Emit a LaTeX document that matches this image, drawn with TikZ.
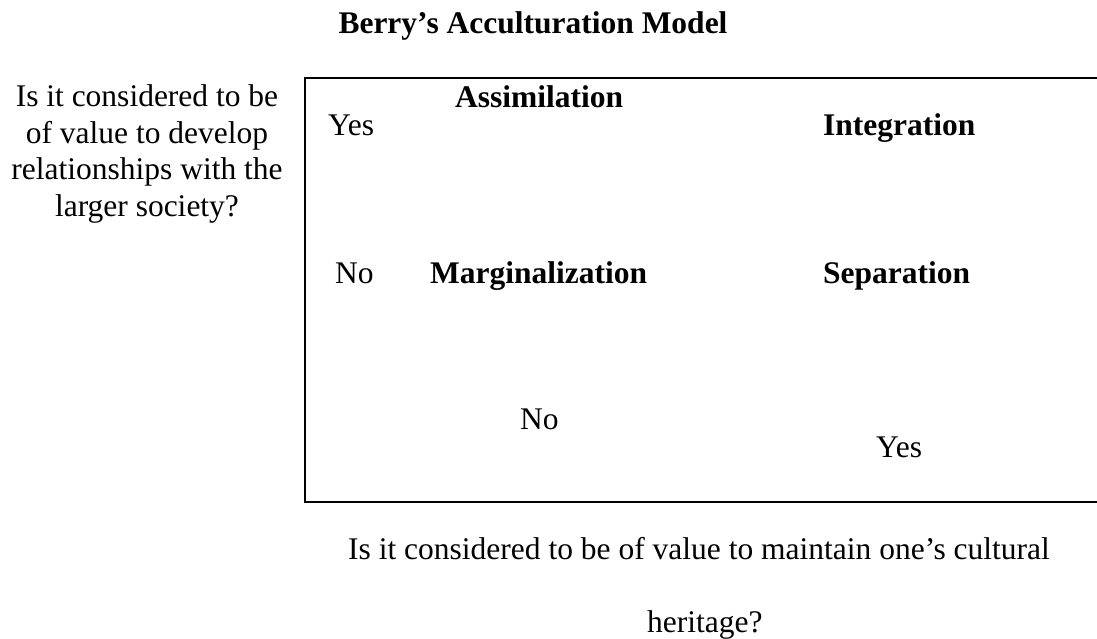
\documentclass[tikz,border=0pt]{standalone}
\usepackage{fontspec}
\setmainfont{Liberation Serif}
\usepackage{tikz}

\begin{document}
\begin{tikzpicture}[x=1pt,y=-1pt,
 every node/.style={font=\fontsize{31.5}{36.5}\selectfont,inner sep=0pt},
 answer/.style={anchor=base west},
 strategy/.style={anchor=base west,font=\fontsize{31.5}{36.5}\selectfont\bfseries}]
 \useasboundingbox (0,0) rectangle (1097,638);
 \node[font=\fontsize{31.5}{36.5}\selectfont\bfseries,anchor=base] (title) at (533,33) {Berry’s Acculturation Model};
 \node[align=center,anchor=base] (relq) at (147,216) {Is it considered to be\\of value to develop\\relationships with the\\larger society?};
 \draw[line width=2pt] (1097,78)--(305,78)--(305,502)--(1097,502);
 \node[answer] (relyes) at (328,135) {Yes};
 \node[answer] (relno) at (335,283) {No};
 \node[strategy] (assim) at (455,107) {Assimilation};
 \node[strategy] (integ) at (823,135) {Integration};
 \node[strategy] (margin) at (430,283) {Marginalization};
 \node[strategy] (separ) at (823,283) {Separation};
 \node[answer] (herno) at (520,429) {No};
 \node[answer] (heryes) at (876,457) {Yes};
 \node[answer] (herq) at (348,559) {Is it considered to be of value to maintain one’s cultural};
 \node[answer] (herq2) at (647,632) {heritage?};
\end{tikzpicture}
\end{document}
